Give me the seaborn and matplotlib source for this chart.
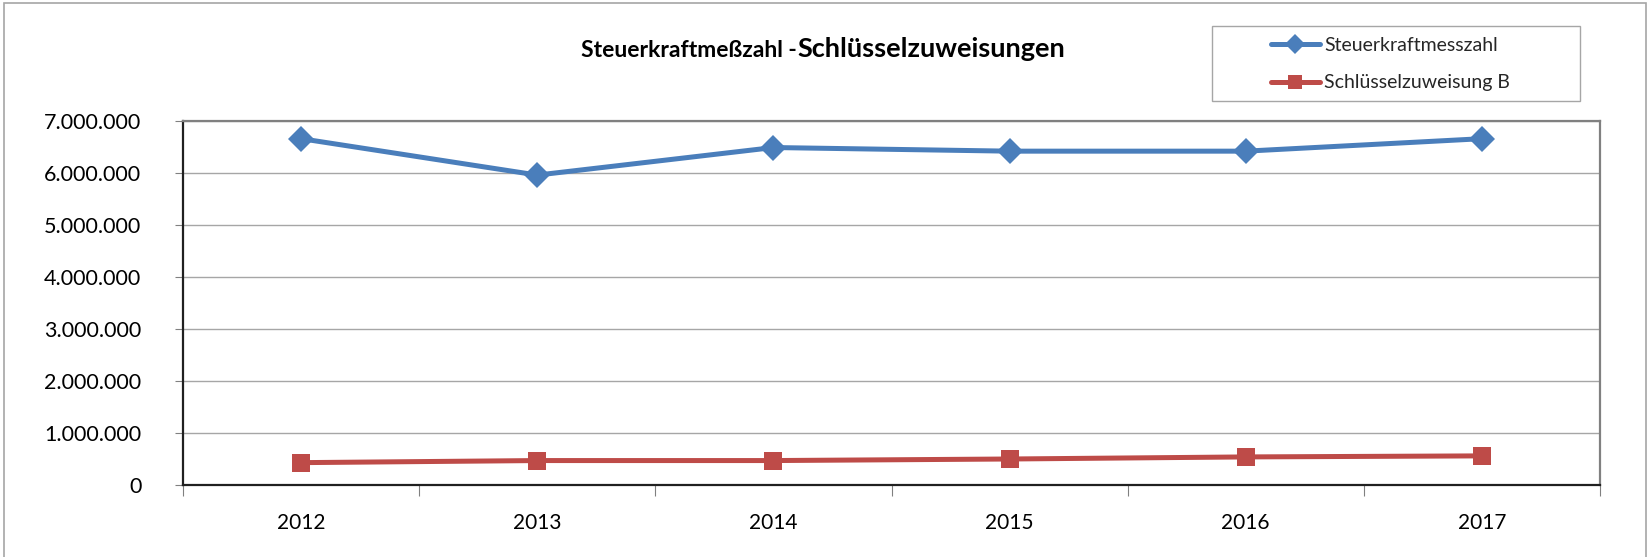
import matplotlib

matplotlib.use("Agg")
import matplotlib.pyplot as plt
import matplotlib.ticker as mticker
import pandas as pd
import seaborn as sns

YEARS = [2012, 2013, 2014, 2015, 2016, 2017]
STEUERKRAFT = [6660000, 5960000, 6490000, 6420000, 6420000, 6660000]
SCHLUESSEL_B = [430000, 470000, 470000, 500000, 540000, 560000]
SERIES = ["Steuerkraftmesszahl", "Schlüsselzuweisung B"]
Y_TICKS = [0, 1000000, 2000000, 3000000, 4000000, 5000000, 6000000, 7000000]

BLUE = "#4A7EBB"
RED = "#BE4B48"
FONT = ["Lato", "DejaVu Sans"]
W, H = 1652, 557

df = pd.DataFrame(
    {
        "year": YEARS * 2,
        "value": STEUERKRAFT + SCHLUESSEL_B,
        "series": [SERIES[0]] * len(YEARS) + [SERIES[1]] * len(YEARS),
    }
)

sns.set_theme(style="white")
plt.rcParams["font.family"] = FONT

fig = plt.figure(figsize=(W / 100, H / 100), dpi=100)
ax = fig.add_axes([183 / W, 1 - 485 / H, (1600 - 183) / W, (485 - 121) / H])

sns.lineplot(
    data=df, x="year", y="value", hue="series", style="series",
    palette=[BLUE, RED], markers=["D", "s"], dashes=False,
    linewidth=3.6, markersize=13, markeredgewidth=0, ax=ax, legend=True,
)

# axes: Excel-like frame, gridlines, ticks between categories
ax.set_xlim(YEARS[0] - 0.5, YEARS[-1] + 0.5)
ax.set_ylim(Y_TICKS[0], Y_TICKS[-1])
ax.set_yticks(Y_TICKS)
ax.yaxis.set_major_formatter(
    mticker.FuncFormatter(lambda v, _: f"{int(v):,}".replace(",", "."))
)
ax.set_xticks(YEARS)
ax.set_xticklabels([str(y) for y in YEARS])
ax.set_xticks([y - 0.5 for y in YEARS] + [YEARS[-1] + 0.5], minor=True)
ax.tick_params(axis="x", which="major", length=0, pad=20, labelsize=15)
ax.tick_params(axis="x", which="minor", length=8, width=0.8, color="#808080",
               direction="out", bottom=True)
ax.tick_params(axis="y", length=6, width=0.8, color="#808080", direction="out",
               left=True, pad=24, labelsize=15.5)
ax.grid(axis="y", color="#A6A6A6", linewidth=1.0)
ax.set_axisbelow(True)
for side in ("top", "right"):
    ax.spines[side].set_color("#808080")
    ax.spines[side].set_linewidth(1.6)
for side in ("left", "bottom"):
    ax.spines[side].set_color("#202020")
    ax.spines[side].set_linewidth(1.6)
ax.set_xlabel("")
ax.set_ylabel("")
for lbl in ax.get_xticklabels() + ax.get_yticklabels():
    lbl.set_color("black")

# legend: own box, entries placed inside it
handles, labels = ax.get_legend_handles_labels()
ax.get_legend().remove()
box = plt.Rectangle((1212 / W, 1 - 101 / H), 368 / W, 75 / H,
                    transform=fig.transFigure, fill=False,
                    edgecolor="#A6A6A6", linewidth=1.0)
fig.patches.append(box)
leg = fig.legend(
    handles, labels, loc="upper left", bbox_to_anchor=(1271 / W, 1 - 37 / H),
    frameon=False, fontsize=14, handlelength=2.5, handletextpad=0.25,
    borderpad=0, labelspacing=1.05, borderaxespad=0,
)
for h in leg.legend_handles:
    h.set_markersize(10)

# two-part title
fig.text(797 / W, 1 - 57 / H, "Steuerkraftmeßzahl -", ha="right",
         va="baseline", fontsize=16.5, fontweight="bold", color="black")
fig.text(797 / W, 1 - 57 / H, "Schlüsselzuweisungen", ha="left",
         va="baseline", fontsize=19.5, fontweight="bold", color="black")

# outer chart frame
frame = plt.Rectangle((4 / W, -0.05), 1642 / W, 1 - 3 / H + 0.05,
                      transform=fig.transFigure, fill=False,
                      edgecolor="#A6A6A6", linewidth=1.2)
fig.patches.append(frame)

fig.savefig("out.png", dpi=100)
plt.close(fig)
